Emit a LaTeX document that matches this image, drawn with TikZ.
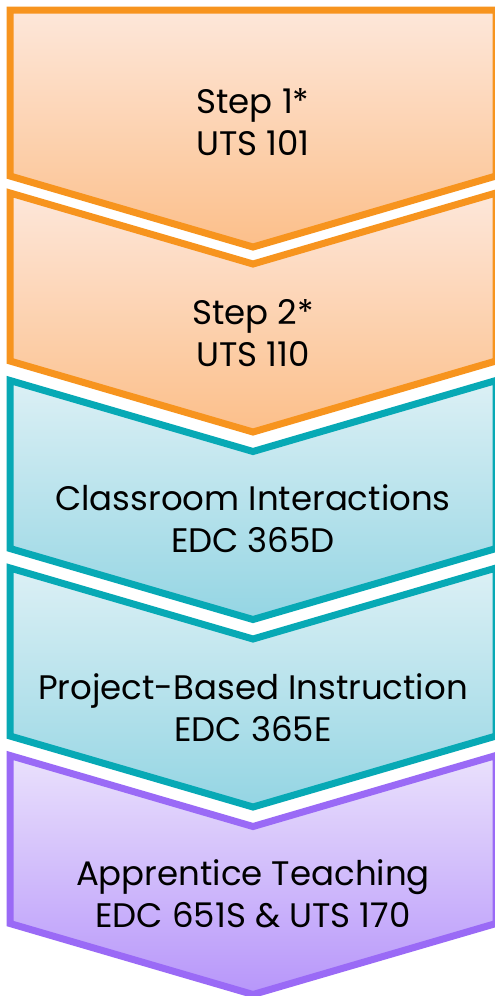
\documentclass[tikz,border=0pt]{standalone}
\usepackage{fontspec}
\setmainfont{Poppins}
\definecolor{orline}{HTML}{F7941E}
\definecolor{ortop}{HTML}{FDE7DA}
\definecolor{orbot}{HTML}{FCBF8A}
\definecolor{tlline}{HTML}{07A9B5}
\definecolor{tltop}{HTML}{DCF0F5}
\definecolor{tlbot}{HTML}{94D5E3}
\definecolor{puline}{HTML}{9A6AF6}
\definecolor{putop}{HTML}{EAE1FC}
\definecolor{pubot}{HTML}{B796FA}
\tikzset{
  chevbase/.style={line width=7pt, line join=miter},
  orshape/.style={chevbase, draw=orline, top color=ortop, bottom color=orbot},
  tlshape/.style={chevbase, draw=tlline, top color=tltop, bottom color=tlbot},
  pushape/.style={chevbase, draw=puline, top color=putop, bottom color=pubot},
  label/.style={align=center, text=black, font=\fontsize{34}{42}\selectfont, inner sep=0pt}
}
\begin{document}
\begin{tikzpicture}[x=1pt,y=1pt]
\useasboundingbox (0,0) rectangle (495,-996);
\fill[white] (0,0) rectangle (495,-996);
% shape 1
\path[orshape] (10,-10) -- (496,-10) -- (496,-176) -- (253,-247) -- (10,-176) -- cycle;
% shape 2
\path[orshape] (10,-193) -- (253,-264) -- (496,-193) -- (496,-361) -- (253,-432) -- (10,-361) -- cycle;
% shape 3
\path[tlshape] (10,-380.5) -- (253,-451.5) -- (496,-380.5) -- (496,-548.5) -- (253,-619.5) -- (10,-548.5) -- cycle;
% shape 4
\path[tlshape] (10,-568) -- (253,-639) -- (496,-568) -- (496,-736) -- (253,-807) -- (10,-736) -- cycle;
% shape 5
\path[pushape] (10,-755.5) -- (253,-826.5) -- (496,-755.5) -- (496,-923.5) -- (253,-994.5) -- (10,-923.5) -- cycle;
\node[label] (t1) at (253,-122) {Step 1*\\UTS 101};
\node[label] (t2) at (253,-333) {Step 2*\\UTS 110};
\node[label] (t3) at (253,-519) {Classroom Interactions\\EDC 365D};
\node[label] (t4) at (253,-708) {Project-Based Instruction\\EDC 365E};
\node[label] (t5) at (253,-894) {Apprentice Teaching\\EDC 651S \& UTS 170};
\end{tikzpicture}
\end{document}
